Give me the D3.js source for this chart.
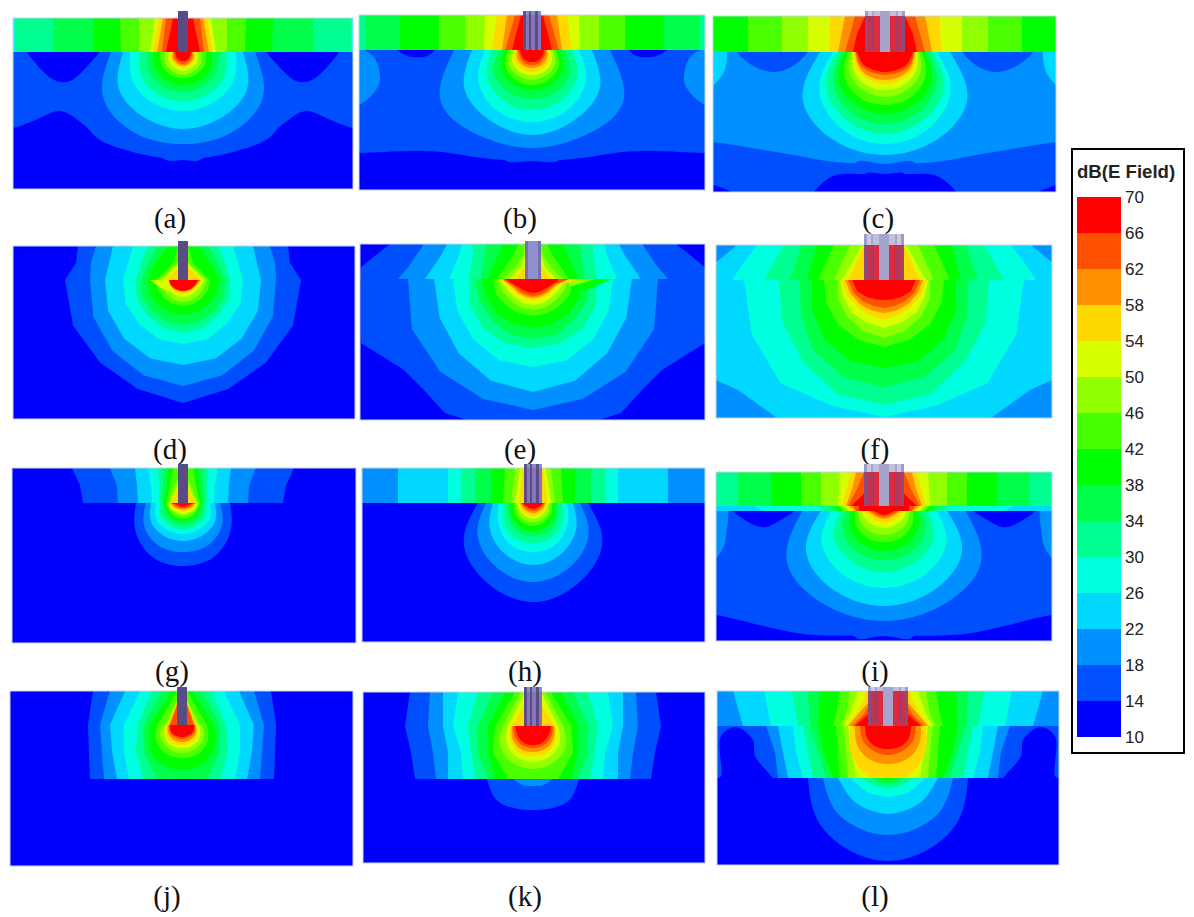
<!DOCTYPE html>
<html lang="en">
  <head>
    <meta charset="UTF-8" />
    <title>dB(E Field)</title>
    <style>
      body {
        margin: 0;
        background: #fff;
      }
      svg {
        display: block;
      }
      .caption {
        font-family: "Liberation Serif", serif;
        font-size: 29px;
        text-anchor: middle;
        fill: #111;
      }
      .legend text {
        font-family: "Liberation Sans", sans-serif;
        font-size: 17px;
        fill: #222;
      }
      .legend .title {
        font-size: 18.6px;
        font-weight: bold;
      }
    </style>
    <script src="https://cdn.jsdelivr.net/npm/d3@7"></script>
  </head>
  <body>
    <div class="container"></div>
    <script>
      // contour levels in dB, each colour fills from its level up to the next one
      const levels = [10, 14, 18, 22, 26, 30, 34, 38, 42, 46, 50, 54, 58, 62, 66];
      const levelColors = ["#0000ff", "#0050ff", "#0090ff", "#00d8ff", "#00ffe0", "#00ff90", "#00ff48",
        "#00ff00", "#48ff00", "#90ff00", "#d8ff00", "#ffd800", "#ff9000", "#ff5000", "#ff0000"];
      const legendTicks = [10, 14, 18, 22, 26, 30, 34, 38, 42, 46, 50, 54, 58, 62, 66, 70];
      const captions = ["(a)", "(b)", "(c)", "(d)", "(e)", "(f)", "(g)", "(h)", "(i)", "(j)", "(k)", "(l)"];

      // bands:   [level, half width at the top of the layer, ..., half width at its bottom]
      // bulbs:   [level, radius sideways, ..., radius straight down]
      // patches: [level, [x, depth] outline], drawn on both sides of the axis
      // tails:   [level, [x, depth] outline], drawn once, for the lopsided bits near the feed
      const aBands = [[30,168,168],[34,130,130],[38,90,89],[42,63,62],[46,44,44],[50,28,33],[54,24,30],[58,20,26],[62,17,21],[66,10,17]];
      const aPatches = [
        [14, [[190,-8],[190,76],[170,76],[150,69],[123,59],[100,72],[83,88],[50,100],[20,106],[0,108],[-20,106],[-30,-8]]],
        [10, [[160,-8],[154,3],[129,28],[113,29],[83,0],[76,-8]]]
      ];
      const aBulbs = [[18,72,92,94,92],[22,60,74,76,77],[26,53,58,59,59],[30,43,48,49,49],[34,36,39,40,40],[38,29,32,33,33],[42,23,25,26,26],
        [46,18,21,22,23],[50,14,17,18,19],[54,12,14,15,16],[58,10,12,13,14],[62,9,10,11,12],[66,8,8,9,9]];

      const bBands = [[34,167,167],[38,132,132],[42,93,93],[46,67,67],[50,47,48],[54,35,40],[58,25,30],[62,17,27],[66,11,20]];
      const bPatches = [
        [14, [[190,-8],[190,103],[173,103],[120,101],[90,102],[50,108],[0,111],[-30,108],[-30,-8]]],
        [18, [[185,0],[160,5],[152,30],[160,45],[173,55],[185,60]]],
        [10, [[140,-5],[125,6],[118,7],[105,6],[93,-5]]]
      ];
      const bBulbs = [[18,78,105,100,98],[22,60,78,82,85],[26,47,62,70,72],[30,40,52,58,60],[34,33,44,48,49],[38,27,36,39,40],[42,24,31,34,35],
        [46,21,27,29,30],[50,18,23,25,25],[54,16,20,21,22],[58,15,17,18,18],[62,14,14,15,15],[66,12,12,12,12]];

      const cBands = [[42,137,137],[46,103,103],[50,77,77],[54,55,56],[58,40,47],[62,30,40],[66,20,28,32]];
      const cPatches = [
        [22, [[185,-5],[160,-5],[160,17],[170,32],[185,45]]],
        [14, [[150,-5],[135,12],[112,20],[92,14],[76,-5]]],
        [14, [[190,88],[171,90],[97,102],[50,110],[0,112],[-30,111],[-30,160],[190,160]]],
        [10, [[80,155],[72,141],[52,124],[20,122],[0,122],[-20,122],[-30,155]]],
        [10, [[185,128],[171,133],[152,141],[145,150],[185,150]]]
      ];
      const cBulbs = [[22,65,95,102,103],[26,52,76,88,92],[30,48,68,78,82],[34,43,60,69,72],[38,40,54,60,62],[42,37,47,52,53],[46,34,41,44,45],
        [50,32,36,38,38],[54,31,33,32,32],[58,30,30,29,28],[62,29,28,24,23],[66,28,25,21,20]];

      const dBands = [[14,105,107,118],[18,87,92,93],[22,70,74,78],[26,50,55,60],[30,35,42,47],[34,25,35,42],[38,15,28,36],[42,5,10,27],[46,0,6,24],[50,0,4,21],[54,0,0,18]];
      const dBulbs = [[14,118,119,117,118,123],[18,93,97,100,103,106],[22,78,81,83,85,85],[26,60,62,62,64,64],[30,47,50,50,52,53],[34,42,44,44,45,45],
        [38,36,36,35,35,35],[42,27,27,26,26,26],[46,24,22,22,22,22],[50,21,18,17,17,17],[54,19,15,14,14,14],[58,18,14,13,12,12],[62,17,13,12,11,11],[66,15,13,12,11,11]];
      const dTails = [[50, [[-33,0],[-14,0],[-12,12],[-22,8]]]];

      const eBands = [[14,143,158,172,173],[18,109,117,125,135],[22,86,92,100,108],[26,71,74,79,84],[30,60,60,62,64],[34,47,48,50,52],[38,30,35,40,46],
        [42,14,20,28,36],[46,8,10,18,30],[50,4,8,12,24],[54,0,4,8,18]];
      const ePatches = [[14, [[172,0],[172,64],[129,91],[110,110],[88,134],[66,141],[0,141],[0,0]]]];
      const eBulbs = [[18,125,131,131,130,131],[22,99,101,105,110,113],[26,80,82,85,88,88],[30,64,68,70,70,69],[34,58,58,58,60,60],[38,52,50,50,49,49],
        [42,40,40,38,37,37],[46,36,33,31,31,31],[50,34,28,26,26,26],[54,32,24,22,21,21],[58,31,22,20,19,19],[62,30,20,18,17,17],[66,28,18,15,14,14]];
      const eTails = [[38, [[50,0],[80,0],[50,12]]],[46, [[36,0],[62,0],[36,8]]],[54, [[30,0],[48,0],[28,6]]],[62, [[25,0],[36,0],[24,5]]]];

      const fBands = [[22,147,168,168],[26,127,140,152],[30,100,110,120],[34,82,88,94],[38,67,72,77],[42,50,58,66],[46,34,42,50],[50,22,32,42],[54,20,28,36]];
      const fPatches = [[18, [[168,100],[146,110],[107,138],[168,138]]]];
      const fBulbs = [[26,140,143,146,136,137],[30,105,110,115,123,125],[34,84,90,100,105,107],[38,72,78,84,88,88],[42,60,62,64,65,67],[46,46,50,52,55,58],
        [50,44,44,46,46,48],[54,42,40,38,38,40],[58,39,36,34,33,33],[62,36,33,30,28,28],[66,32,29,24,21,20]];

      const gBands = [[14,111,103,100],[18,73,66,65],[22,48,46,45],[26,35,32,31],[30,25,24,24],[34,20,20,21],[38,15,16,20],[42,10,13,17],[46,0,8,15],[50,0,5,13],[54,0,3,12]];
      const gBulbs = [[14,47,55,62,63],[18,37,45,49,49],[22,32,37,38,38],[26,27,31,31,31],[30,23,26,26,26],[34,20,22,22,22],[38,18,18,18,18],
        [42,17,16,16,16],[46,16,14,13,13],[50,15,13,11,11],[54,14,11,9,9],[58,13,9,7,7],[62,12,7,6,5],[66,11,5,4,4]];

      const hBands = [[22,135,135],[26,85,85],[30,72,72],[34,58,58],[38,42,42],[42,28,30],[46,18,22],[50,13,18],[54,10,14]];
      const hBulbs = [[14,55,80,92,99],[18,47,64,74,79],[22,40,50,58,62],[26,34,40,47,49],[30,29,34,39,40],[34,25,28,32,33],[38,22,25,27,28],
        [42,19,21,22,23],[46,17,18,19,19],[50,15,15,15,16],[54,14,13,13,13],[58,13,11,10,10],[62,12,9,8,8],[66,11,7,6,6]];

      const iBands = [[34,146,146],[38,113,113],[42,83,83],[46,63,63],[50,44,46],[54,33,42],[58,28,32,38],[62,20,27,36],[66,0,15,33]];
      const iSkinBands = [[26,130,120],[30,65,60],[34,55,50],[38,50,45],[42,46,41],[46,43,38],[50,40,35],[54,37,32],[58,34,29],[62,30,28],[66,25,25]];
      const iPatches = [
        [14, [[190,-8],[190,108],[168,109],[120,120],[80,128],[0,130],[-30,130],[-30,-8]]],
        [18, [[185,0],[158,0],[158,30],[160,40],[168,52],[185,60]]],
        [10, [[155,0],[130,19],[118,21],[105,15],[85,0]]]
      ];
      const iBulbs = [[18,79,112,115,115],[22,60,90,98,100],[26,50,72,80,82],[30,40,58,64,66],[34,35,48,53,54],[38,31,40,44,45],[42,28,33,36,36],
        [46,26,28,29,29],[50,25,23,22,22],[54,24,19,17,17],[58,23,15,13,13],[62,22,13,11,11],[66,21,11,9,9]];

      const jBands = [[14,89,94],[18,72,82],[22,57,72],[26,42,58],[30,30,44],[34,20,38],[38,10,32],[42,5,25],[46,0,18],[50,0,15],[54,0,14],[58,0,13],[62,0,12]];
      const jMidBands = [[14,94,93,92],[18,82,80,78],[22,72,70,65],[26,58,58,53],[30,44,46,38],[34,38,38,25]];
      const jBulbs = [[38,32,38,44,45],[42,25,30,33,33],[46,20,25,27,28],[50,17,21,23,23],[54,15,18,20,20],[58,14,16,17,17],[62,13,14,14,14],[66,12,13,12,12]];

      const kBands = [[14,123,128],[18,103,105],[22,90,90],[26,75,80],[30,55,65],[34,40,55],[38,28,45],[42,18,38],[46,12,30],[50,8,25],[54,0,22]];
      const kMidBands = [[14,128,122,118],[18,105,100,97],[22,90,85,85],[26,80,72,70],[30,65,62,57],[34,55,55,45],[38,45,45,38],[42,38,40,25]];
      const kBulbs = [[46,30,38,42,43],[50,25,31,35,36],[54,23,26,30,30],[58,21,24,26,26],[62,20,21,22,22],[66,18,18,19,19]];
      const kLowBulbs = [[14,46,42,34,31],[18,20,12,8,7]];

      const lBands = [[22,155,145],[26,124,117],[30,96,90],[34,80,78],[38,68,70],[42,48,50,52,55],[46,38,40,42,48],[50,30,34,38,45],[54,22,26,32,42],[58,0,20,30,40],[62,0,18,24,36],[66,0,0,20,33]];
      const lMidBands = [[18,122,113,110],[22,110,105,100],[26,95,92,85],[30,85,80,75],[34,78,70,62],[38,70,65,55],[42,52,50,48],[46,45,42,40],[50,40,36,32]];
      const lMidPatches = [[10, [[190,56],[171,53],[167,50],[167,10],[152,1],[135,14],[133,30],[117,50],[112,60]]]];
      const lMidBulbs = [[54,38,44,52,58],[58,33,36,38,38],[62,28,29,29,29],[66,23,24,24,23]];
      const lLowBulbs = [[14,80,82,82,83],[18,65,62,58,57],[22,50,42,37,36],[26,37,26,20,19],[30,27,15,11,11],[34,17,9,6,6],[38,10,4,3,2]];

      // antenna strips: x from, x to, colour above the box, colour inside it
      const thinPin = [[-5,5,"#50508c","#5a4c84"]];
      const triplePin = [[-9,-6,"#54548e","#5c4c88"],[-6,-3,"#8c8cc4","#8478b4"],[-3,-1,"#54548e","#5c4c88"],[-1,3,"#8c8cc4","#8478b4"],[3,6,"#54548e","#5c4c88"],[6,9,"#8c8cc4","#8478b4"]];
      const solidPin = [[-8,-5,"#7272b0","#7272b0"],[-5,5,"#9090cc","#9090cc"],[5,8,"#7272b0","#7272b0"]];
      const arrayPin = [[-20,-17,"#9c9cc4","#8c4c80"],[-17,-13,"#c8c8e0","#c4304c"],[-13,-11,"#a8a8cc","#9c3c70"],[-11,-5,"#c0c0dc","#dc2c40"],[-5,5,"#a4a4cc","#a4a4cc"],
        [5,11,"#c0c0dc","#dc2c40"],[11,13,"#a8a8cc","#9c3c70"],[13,17,"#c8c8e0","#c4304c"],[17,20,"#9c9cc4","#8c4c80"]];

      const panels = [
        { left: 13, right: 353, top: 18, bottom: 189, cx: 183, feed: 52, cuts: [], pin: thinPin, pinTop: 11, capX: 170, capY: 228,
          fields: [{ base: 26, bands: aBands }, { base: 10, patches: aPatches, bulbs: aBulbs }] },
        { left: 359, right: 705, top: 15, bottom: 190, cx: 532, feed: 50, cuts: [], pin: triplePin, pinTop: 11, capX: 520, capY: 228,
          fields: [{ base: 30, bands: bBands }, { base: 10, patches: bPatches, bulbs: bBulbs }] },
        { left: 713, right: 1056, top: 16, bottom: 192, cx: 885, feed: 52, cuts: [], pin: arrayPin, pinTop: 11, capX: 878, capY: 228,
          fields: [{ base: 38, bands: cBands }, { base: 18, patches: cPatches, bulbs: cBulbs }] },
        { left: 13, right: 355, top: 246, bottom: 419, cx: 183, feed: 280, cuts: [], pin: thinPin, pinTop: 241, capX: 170, capY: 459,
          fields: [{ base: 10, bands: dBands }, { base: 10, bulbs: dBulbs, tails: dTails, facet: true }] },
        { left: 360, right: 705, top: 244, bottom: 420, cx: 533, feed: 279, cuts: [], pin: solidPin, pinTop: 241, capX: 520, capY: 459,
          fields: [{ base: 10, bands: eBands }, { base: 10, patches: ePatches, bulbs: eBulbs, tails: eTails, facet: true }] },
        { left: 716, right: 1052, top: 245, bottom: 418, cx: 884, feed: 280, cuts: [], pin: arrayPin, pinTop: 234, capX: 875, capY: 459,
          fields: [{ base: 18, bands: fBands }, { base: 22, patches: fPatches, bulbs: fBulbs, facet: true }] },
        { left: 12, right: 356, top: 468, bottom: 643, cx: 183, feed: 503, cuts: [], pin: thinPin, pinTop: 464, capX: 172, capY: 681,
          fields: [{ base: 10, bands: gBands }, { base: 10, bulbs: gBulbs }] },
        { left: 362, right: 705, top: 468, bottom: 642, cx: 533, feed: 503, cuts: [], pin: triplePin, pinTop: 464, capX: 525, capY: 681,
          fields: [{ base: 18, bands: hBands }, { base: 10, bulbs: hBulbs }] },
        { left: 716, right: 1052, top: 472, bottom: 641, cx: 884, feed: 506, cuts: [511], pin: arrayPin, pinTop: 464, capX: 875, capY: 681,
          fields: [{ base: 30, bands: iBands }, { base: 22, bands: iSkinBands }, { base: 10, patches: iPatches, bulbs: iBulbs }] },
        { left: 10, right: 353, top: 691, bottom: 866, cx: 182, feed: 725, cuts: [779], pin: thinPin, pinTop: 687, capX: 167, capY: 906,
          fields: [{ base: 10, bands: jBands }, { base: 10, bands: jMidBands, bulbs: jBulbs }, { base: 10 }] },
        { left: 363, right: 705, top: 692, bottom: 863, cx: 533, feed: 726, cuts: [779], pin: triplePin, pinTop: 687, capX: 525, capY: 906,
          fields: [{ base: 10, bands: kBands }, { base: 10, bands: kMidBands, bulbs: kBulbs }, { base: 10, bulbs: kLowBulbs, origin: 53 }] },
        { left: 717, right: 1059, top: 691, bottom: 865, cx: 888, feed: 726, cuts: [778], pin: arrayPin, pinTop: 687, capX: 875, capY: 906,
          fields: [{ base: 18, bands: lBands }, { base: 14, bands: lMidBands, patches: lMidPatches, bulbs: lMidBulbs }, { base: 10, bulbs: lLowBulbs, origin: 52 }] }
      ];

      const width = 1194,
        height = 917;
      const color = d3.scaleOrdinal(levels, levelColors);

      const svg = d3
        .select(".container")
        .append("svg")
        .attr("width", width)
        .attr("height", height);

      const blur = svg.append("defs").append("filter").attr("id", "soft");
      blur.append("feGaussianBlur").attr("stdDeviation", 0.7);

      function drawField(g, field, x, y, from, to, clipId) {
        const clip = g.append("clipPath").attr("id", clipId);
        clip
          .append("rect")
          .attr("x", x.range()[0])
          .attr("y", y(from))
          .attr("width", x.range()[1] - x.range()[0])
          .attr("height", y(to) - y(from));

        const layer = g.append("g").attr("clip-path", "url(#" + clipId + ")");

        layer
          .append("rect")
          .attr("x", x.range()[0])
          .attr("y", y(from))
          .attr("width", x.range()[1] - x.range()[0])
          .attr("height", y(to) - y(from))
          .attr("fill", color(field.base));

        const straight = d3
          .line()
          .x((p) => x(p[0]))
          .y((p) => y(p[1]))
          .curve(d3.curveLinearClosed);

        const rounded = d3
          .line()
          .x((p) => x(p[0]))
          .y((p) => y(p[1]))
          .curve(field.facet ? d3.curveLinearClosed : d3.curveCatmullRomClosed);

        // nested trapezoids, outermost first
        (field.bands || []).forEach((row) => {
          const widths = row.slice(1);
          const depth = d3.scalePoint(d3.range(widths.length), [from, to]);
          const right = widths.map((w, i) => [w, depth(i)]);
          const left = right.map((p) => [-p[0], p[1]]).reverse();
          layer
            .append("path")
            .attr("d", straight(right.concat(left)))
            .attr("fill", color(row[0]));
        });

        // two separate paths, the two halves overlap on the axis
        (field.patches || []).forEach((row) => {
          const mirror = row[1].map((p) => [-p[0], p[1]]);
          [row[1], mirror].forEach((outline) => {
            layer
              .append("path")
              .attr("d", rounded(outline))
              .attr("fill", color(row[0]));
          });
        });

        const origin = field.origin || 0;
        const bulb = d3
          .line()
          .x((p) => x(p[0]))
          .y((p) => y(p[1] + origin))
          .curve(field.facet ? d3.curveLinear : d3.curveNatural);

        (field.bulbs || []).forEach((row) => {
          const radii = row.slice(1);
          const angle = d3.scaleLinear([0, radii.length - 1], [Math.PI / 2, 0]);
          const right = radii.map((r, i) => [r * Math.sin(angle(i)), r * Math.cos(angle(i))]);
          const left = right.slice(0, -1).map((p) => [-p[0], p[1]]).reverse();
          layer
            .append("path")
            .attr("d", bulb(right.concat(left)) + "Z")
            .attr("fill", color(row[0]));
        });

        (field.tails || []).forEach((row) => {
          layer
            .append("path")
            .attr("d", straight(row[1]))
            .attr("fill", color(row[0]));
        });
      }

      panels.forEach((p, i) => {
        const x = d3.scaleLinear([p.left - p.cx, p.right - p.cx], [p.left, p.right]);
        const y = d3.scaleLinear([p.top - p.feed, p.bottom - p.feed], [p.top, p.bottom]);
        const g = svg.append("g").attr("filter", "url(#soft)");

        const stops = [p.top, p.feed].concat(p.cuts, [p.bottom]).map((v) => v - p.feed);
        p.fields.forEach((field, k) => {
          drawField(g, field, x, y, stops[k], stops[k + 1], "clip-" + i + "-" + k);
        });

        g.append("rect")
          .attr("x", p.left)
          .attr("y", p.top)
          .attr("width", p.right - p.left)
          .attr("height", p.bottom - p.top)
          .attr("fill", "none")
          .attr("stroke", "#c4d4e4")
          .attr("stroke-width", 1);

        g.selectAll(".above")
          .data(p.pin)
          .enter()
          .append("rect")
          .attr("x", (d) => x(d[0]))
          .attr("y", y(p.pinTop - p.feed))
          .attr("width", (d) => x(d[1]) - x(d[0]))
          .attr("height", y(p.top - p.feed) - y(p.pinTop - p.feed))
          .attr("fill", (d) => d[2]);

        g.selectAll(".inside")
          .data(p.pin)
          .enter()
          .append("rect")
          .attr("x", (d) => x(d[0]))
          .attr("y", y(p.top - p.feed))
          .attr("width", (d) => x(d[1]) - x(d[0]))
          .attr("height", y(0) - y(p.top - p.feed))
          .attr("fill", (d) => d[3]);

        svg
          .append("text")
          .attr("class", "caption")
          .attr("x", p.capX)
          .attr("y", p.capY)
          .text(captions[i]);
      });

      // legend
      const legend = svg.append("g").attr("class", "legend");
      const legendScale = d3.scaleLinear([10, 70], [737, 197]);

      legend
        .append("rect")
        .attr("x", 1072)
        .attr("y", 149)
        .attr("width", 112)
        .attr("height", 604)
        .attr("fill", "#fff")
        .attr("stroke", "#000")
        .attr("stroke-width", 2);

      legend
        .append("text")
        .attr("class", "title")
        .attr("x", 1077)
        .attr("y", 178)
        .text("dB(E Field)");

      legend
        .selectAll(".swatch")
        .data(levels)
        .enter()
        .append("rect")
        .attr("x", 1077)
        .attr("y", (d) => legendScale(d + 4))
        .attr("width", 44)
        .attr("height", (d) => legendScale(d) - legendScale(d + 4))
        .attr("fill", (d) => color(d));

      const axis = legend
        .append("g")
        .attr("transform", "translate(1121,0)")
        .call(d3.axisRight(legendScale).tickValues(legendTicks).tickSize(0).tickPadding(4));
      axis.select(".domain").remove();
      axis.selectAll("text").attr("font-size", null).attr("font-family", null);
    </script>
  </body>
</html>
